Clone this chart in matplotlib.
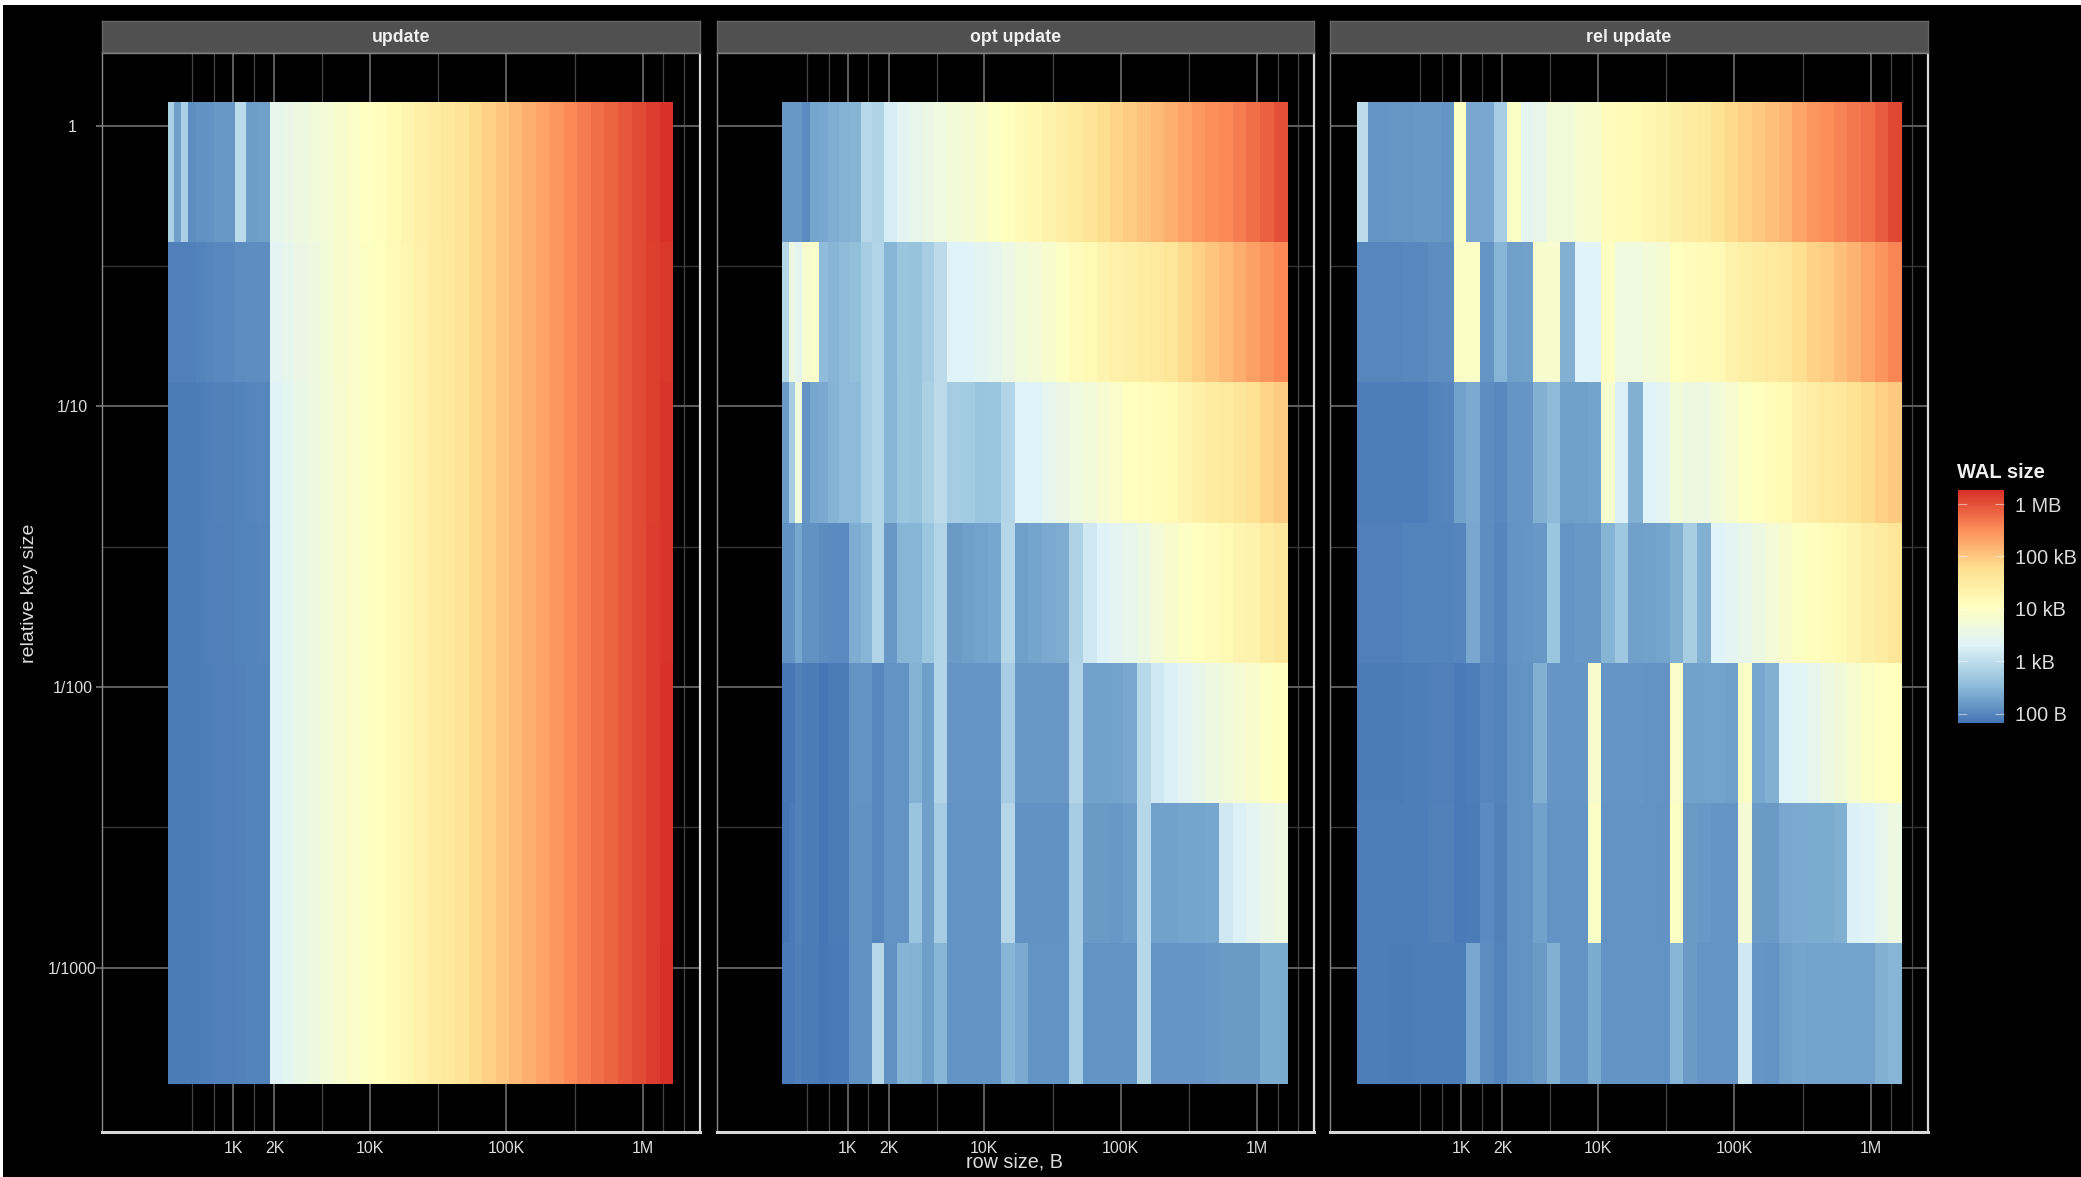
import matplotlib
matplotlib.use('Agg')
import matplotlib.pyplot as plt
from matplotlib.colors import LinearSegmentedColormap, Normalize
from matplotlib.patches import Rectangle
from matplotlib.ticker import NullFormatter
import numpy as np

plt.rcParams['font.family'] = ['Liberation Sans', 'DejaVu Sans']

# data: everything in log10 bytes
panel_names = ['update', 'opt update', 'rel update']

# row size bin edges
row_edges = [2.518, 2.566, 2.613, 2.664, 2.726, 2.790, 2.855, 2.933, 3.009, 3.096, 3.175,
             3.265, 3.363, 3.447, 3.545, 3.632, 3.728, 3.834, 3.930, 4.025, 4.121,
             4.227, 4.323, 4.421, 4.522, 4.620, 4.724, 4.823, 4.924, 5.019, 5.117,
             5.218, 5.317, 5.421, 5.519, 5.620, 5.718, 5.819, 5.918, 6.021, 6.122, 6.221]
row_edges_rel = [2.238, 2.317, 2.407, 2.474, 2.572, 2.662, 2.758, 2.853, 2.949, 3.036, 3.134,
                 3.238, 3.333, 3.434, 3.527, 3.628, 3.726, 3.833, 3.926, 4.024, 4.128,
                 4.223, 4.327, 4.425, 4.526, 4.627, 4.726, 4.827, 4.928, 5.029, 5.130,
                 5.225, 5.326, 5.425, 5.531, 5.627, 5.731, 5.826, 5.927, 6.028, 6.127, 6.228]

# relative key size bin edges
key_edges = [0.086, -0.414, -0.914, -1.414, -1.914, -2.414, -2.914, -3.414]

wal_update = [
    [2.8, 2.25, 2.8, 2.07, 2.1, 2.13, 2.17, 2.18, 2.95, 2.22, 2.25, 3.48, 3.52, 3.6, 3.68, 3.76, 3.85, 3.93, 4.02, 4.07, 4.2, 4.28, 4.4, 4.5, 4.6, 4.7, 4.82, 4.93, 5.03, 5.13, 5.22, 5.33, 5.45, 5.55, 5.65, 5.75, 5.85, 5.95, 6.05, 6.15, 6.24],
    [1.93, 1.93, 1.93, 1.93, 1.97, 2.0, 2.02, 2.02, 2.05, 2.07, 2.08, 3.38, 3.46, 3.56, 3.64, 3.74, 3.84, 3.92, 4.0, 4.06, 4.18, 4.26, 4.38, 4.48, 4.58, 4.7, 4.82, 4.93, 5.03, 5.13, 5.22, 5.33, 5.45, 5.55, 5.65, 5.75, 5.85, 5.95, 6.05, 6.14, 6.21],
    [1.9, 1.9, 1.9, 1.9, 1.92, 1.93, 1.95, 1.95, 1.97, 1.98, 2.0, 3.33, 3.42, 3.54, 3.62, 3.72, 3.82, 3.92, 4.0, 4.06, 4.18, 4.26, 4.38, 4.48, 4.58, 4.7, 4.82, 4.93, 5.03, 5.13, 5.22, 5.33, 5.45, 5.55, 5.65, 5.75, 5.85, 5.95, 6.05, 6.14, 6.22],
    [1.9, 1.9, 1.9, 1.9, 1.92, 1.93, 1.94, 1.95, 1.96, 1.97, 1.98, 3.33, 3.42, 3.54, 3.62, 3.72, 3.82, 3.92, 4.0, 4.06, 4.18, 4.26, 4.38, 4.48, 4.58, 4.7, 4.82, 4.93, 5.03, 5.13, 5.22, 5.33, 5.45, 5.55, 5.65, 5.75, 5.85, 5.95, 6.05, 6.15, 6.23],
    [1.9, 1.9, 1.9, 1.9, 1.91, 1.92, 1.93, 1.94, 1.95, 1.96, 1.97, 3.33, 3.42, 3.54, 3.62, 3.72, 3.82, 3.92, 4.0, 4.06, 4.18, 4.26, 4.38, 4.48, 4.58, 4.7, 4.82, 4.93, 5.03, 5.13, 5.22, 5.33, 5.45, 5.55, 5.65, 5.75, 5.85, 5.95, 6.05, 6.15, 6.24],
    [1.9, 1.9, 1.9, 1.9, 1.91, 1.92, 1.93, 1.94, 1.95, 1.96, 1.97, 3.33, 3.42, 3.54, 3.62, 3.72, 3.82, 3.92, 4.0, 4.06, 4.18, 4.26, 4.38, 4.48, 4.58, 4.7, 4.82, 4.93, 5.03, 5.13, 5.22, 5.33, 5.45, 5.55, 5.65, 5.75, 5.85, 5.95, 6.05, 6.15, 6.25],
    [1.9, 1.9, 1.9, 1.9, 1.91, 1.92, 1.93, 1.94, 1.95, 1.96, 1.97, 3.33, 3.42, 3.54, 3.62, 3.72, 3.82, 3.92, 4.0, 4.06, 4.18, 4.26, 4.38, 4.48, 4.58, 4.7, 4.82, 4.93, 5.03, 5.13, 5.22, 5.33, 5.45, 5.55, 5.65, 5.75, 5.85, 5.95, 6.05, 6.16, 6.26],
]

wal_opt = [
    [2.17, 2.17, 2.17, 2.03, 2.3, 2.32, 2.38, 2.43, 2.45, 2.93, 2.85, 3.22, 3.37, 3.48, 3.57, 3.65, 3.72, 3.78, 3.88, 4.0, 4.05, 4.15, 4.25, 4.35, 4.45, 4.57, 4.68, 4.8, 4.88, 4.97, 5.05, 5.13, 5.22, 5.32, 5.42, 5.5, 5.55, 5.65, 5.75, 5.88, 6.02],
    [2.9, 3.6, 3.4, 3.88, 3.9, 2.55, 2.47, 2.52, 2.57, 2.77, 2.87, 2.48, 2.65, 2.62, 2.77, 2.95, 3.3, 3.3, 3.37, 3.47, 3.58, 3.68, 3.75, 3.85, 3.98, 4.1, 4.2, 4.3, 4.38, 4.42, 4.48, 4.55, 4.65, 4.82, 4.92, 5.02, 5.12, 5.24, 5.36, 5.47, 5.55],
    [2.2, 2.75, 3.65, 2.15, 2.32, 2.35, 2.45, 2.52, 2.53, 2.77, 2.87, 2.48, 2.66, 2.62, 2.8, 2.95, 2.75, 2.73, 2.65, 2.67, 2.87, 3.3, 3.3, 3.45, 3.57, 3.65, 3.7, 3.82, 3.92, 4.03, 4.08, 4.13, 4.2, 4.3, 4.4, 4.48, 4.55, 4.65, 4.75, 4.88, 4.97],
    [2.1, 2.1, 2.32, 2.1, 2.1, 2.05, 2.03, 2.03, 2.38, 2.47, 2.87, 2.17, 2.47, 2.48, 2.67, 2.88, 2.2, 2.25, 2.28, 2.32, 2.9, 2.25, 2.3, 2.35, 2.38, 2.83, 3.15, 3.3, 3.38, 3.48, 3.6, 3.75, 3.88, 3.97, 4.05, 4.1, 4.2, 4.3, 4.35, 4.5, 4.6],
    [1.85, 1.85, 1.95, 1.9, 1.9, 1.83, 1.9, 1.9, 2.12, 2.12, 2.0, 2.12, 2.12, 2.43, 2.25, 2.88, 2.14, 2.14, 2.14, 2.14, 2.77, 2.18, 2.18, 2.18, 2.18, 2.87, 2.27, 2.27, 2.28, 2.33, 2.92, 3.15, 3.28, 3.38, 3.5, 3.6, 3.68, 3.78, 3.88, 3.98, 4.05],
    [1.82, 1.88, 1.95, 1.9, 1.9, 1.83, 1.9, 1.9, 2.11, 2.11, 2.0, 2.13, 2.13, 2.65, 2.25, 2.75, 2.13, 2.13, 2.13, 2.13, 2.9, 2.1, 2.1, 2.1, 2.1, 2.77, 2.2, 2.2, 2.18, 2.22, 2.9, 2.27, 2.27, 2.3, 2.3, 2.32, 3.15, 3.28, 3.4, 3.52, 3.6],
    [1.88, 1.88, 1.93, 1.9, 1.9, 1.85, 1.88, 1.88, 2.1, 2.1, 2.9, 2.1, 2.45, 2.43, 2.25, 2.47, 2.12, 2.12, 2.12, 2.12, 2.47, 2.35, 2.12, 2.12, 2.12, 2.77, 2.13, 2.13, 2.13, 2.13, 2.9, 2.15, 2.15, 2.15, 2.15, 2.17, 2.2, 2.2, 2.2, 2.36, 2.36],
]

wal_rel = [
    [2.95, 2.15, 2.15, 2.16, 2.16, 2.17, 2.17, 2.15, 4.0, 2.34, 2.34, 2.75, 3.95, 3.4, 3.5, 3.7, 3.7, 3.82, 3.85, 4.1, 4.15, 4.2, 4.27, 4.35, 4.42, 4.5, 4.58, 4.72, 4.85, 4.92, 5.0, 5.08, 5.17, 5.3, 5.45, 5.53, 5.6, 5.68, 5.78, 5.92, 6.07],
    [2.0, 2.0, 2.0, 2.0, 2.02, 2.02, 2.05, 2.05, 3.95, 3.95, 2.15, 2.47, 2.25, 2.27, 3.85, 3.85, 2.42, 3.3, 3.3, 4.0, 3.65, 3.65, 3.72, 3.8, 4.05, 4.1, 4.15, 4.2, 4.35, 4.42, 4.5, 4.55, 4.62, 4.78, 4.9, 4.98, 5.08, 5.18, 5.32, 5.47, 5.58],
    [1.92, 1.92, 1.92, 1.92, 1.92, 1.92, 1.96, 1.98, 2.27, 2.35, 2.08, 2.02, 2.15, 2.15, 2.42, 2.52, 2.25, 2.25, 2.28, 3.85, 3.25, 2.42, 3.3, 3.38, 3.72, 3.62, 3.6, 3.72, 3.82, 4.0, 4.05, 4.12, 4.2, 4.38, 4.45, 4.55, 4.62, 4.72, 4.82, 4.92, 5.0],
    [1.93, 1.93, 1.93, 1.93, 1.96, 1.96, 1.96, 1.96, 1.98, 2.33, 2.05, 1.98, 2.12, 2.15, 2.18, 2.67, 2.15, 2.17, 2.17, 2.45, 2.7, 2.25, 2.27, 2.3, 2.42, 2.78, 2.42, 3.3, 3.38, 3.5, 3.62, 3.75, 3.88, 4.0, 4.07, 4.12, 4.2, 4.3, 4.42, 4.5, 4.65],
    [1.9, 1.9, 1.9, 1.9, 1.92, 1.92, 1.94, 1.94, 1.88, 1.92, 2.0, 1.97, 2.1, 2.12, 2.42, 2.14, 2.14, 2.14, 3.85, 2.15, 2.15, 2.15, 2.13, 2.13, 3.92, 2.26, 2.27, 2.28, 2.25, 3.95, 2.32, 2.42, 3.3, 3.35, 3.45, 3.6, 3.7, 3.82, 3.95, 4.02, 4.05],
    [1.92, 1.92, 1.92, 1.92, 1.92, 1.92, 1.95, 1.95, 1.88, 1.9, 2.03, 1.95, 2.1, 2.12, 2.27, 2.13, 2.13, 2.13, 3.95, 2.13, 2.13, 2.13, 2.13, 2.1, 4.0, 2.2, 2.18, 2.15, 2.15, 3.78, 2.2, 2.2, 2.33, 2.35, 2.36, 2.37, 2.42, 3.27, 3.32, 3.47, 3.6],
    [1.92, 1.92, 1.92, 1.9, 1.9, 1.92, 1.92, 1.92, 1.92, 2.33, 2.05, 1.97, 2.1, 2.12, 2.2, 2.42, 2.13, 2.13, 2.37, 2.13, 2.13, 2.13, 2.13, 2.13, 2.47, 2.2, 2.15, 2.15, 2.15, 3.15, 2.15, 2.12, 2.25, 2.3, 2.28, 2.28, 2.28, 2.28, 2.28, 2.42, 2.47],
]

# axis ticks
x_major = [1000, 2000, 10000, 100000, 1000000]
x_labels = ['1K', '2K', '10K', '100K', '1M']
x_minor = [500, 724, 1414, 4472, 31623, 316228, 1414000, 2000000]
y_major = [1, 0.1, 0.01, 0.001]
y_labels = ['1', '1/10', '1/100', '1/1000']
y_minor = [0.316, 0.0316, 0.00316]
legend_ticks = [2, 3, 4, 5, 6]
legend_labels = ['100 B', '1 kB', '10 kB', '100 kB', '1 MB']

W, H = 2081, 1177
txt = '#dcdcdc'

cmap = LinearSegmentedColormap.from_list(
    'wal', ['#4575b4', '#91bfdb', '#e0f3f8', '#ffffbf', '#fee090', '#fc8d59', '#d73027'])
norm = Normalize(1.82, 6.27)


def box(x0, y0, x1, y1):
    # pixel box, from the top left, to figure fractions
    return [x0 / W, 1 - y1 / H, (x1 - x0) / W, (y1 - y0) / H]


fig = plt.figure(figsize=(W / 100, H / 100), dpi=100, facecolor='white')
fig.patches.append(Rectangle((3 / W, 0), 1, 1 - 5 / H, transform=fig.transFigure,
                             facecolor='black', edgecolor='none', zorder=-10))

lefts = [102, 716.5, 1330]
edges = [row_edges, row_edges, row_edges_rel]
values = [wal_update, wal_opt, wal_rel]

for i in range(3):
    x0 = lefts[i]
    ax = fig.add_axes(box(x0, 53, x0 + 597.5, 1132), facecolor='black')
    xe = 10 ** np.array(edges[i])
    ye = 10 ** np.array(key_edges)
    mesh = ax.pcolormesh(xe, ye, np.array(values[i]), cmap=cmap, norm=norm,
                         edgecolor='face', linewidth=0, zorder=2)
    ax.set_xscale('log')
    ax.set_yscale('log')
    ax.set_xlim(109, 2.6e6)
    ax.set_ylim(10 ** -3.586, 10 ** 0.26)

    ax.set_xticks(x_major)
    ax.set_xticklabels(x_labels)
    ax.set_xticks(x_minor, minor=True)
    ax.xaxis.set_minor_formatter(NullFormatter())
    ax.set_yticks(y_major)
    ax.set_yticks(y_minor, minor=True)
    ax.yaxis.set_minor_formatter(NullFormatter())
    if i == 0:
        ax.set_yticklabels(y_labels, ha='center')
    else:
        ax.set_yticklabels([])

    ax.set_axisbelow(True)
    ax.grid(which='major', color='#5e5e5e', linewidth=1.4)
    ax.grid(which='minor', axis='x', color='#444444', linewidth=0.9)
    ax.grid(which='minor', axis='y', color='#363636', linewidth=1.0)
    ax.tick_params(which='minor', length=0)
    ax.tick_params(axis='x', which='major', length=0, pad=6.5, labelsize=11.5, labelcolor=txt)
    # labels are centred on one another, as in the source chart
    ax.tick_params(axis='y', which='major', length=4 if i == 0 else 0, width=1.2,
                   color='#777777', pad=17.4, labelsize=11.5, labelcolor=txt)

    ax.spines['left'].set_color('#8a8a8a')
    ax.spines['left'].set_linewidth(1.0)
    ax.spines['top'].set_color('#8a8a8a')
    ax.spines['top'].set_linewidth(1.0)
    ax.spines['right'].set_color('#d8d8d8')
    ax.spines['right'].set_linewidth(1.6)
    ax.spines['bottom'].set_color('#d8d8d8')
    ax.spines['bottom'].set_linewidth(2.2)

    strip = fig.add_axes(box(x0, 21, x0 + 597.5, 52), facecolor='#505050')
    strip.set_xticks([])
    strip.set_yticks([])
    for s in strip.spines.values():
        s.set_color('#666666')
        s.set_linewidth(1.0)
    strip.text(0.5, 0.47, panel_names[i], transform=strip.transAxes, ha='center', va='center',
               color='#f0f0f0', fontsize=12.8, fontweight='bold')

fig.text(1014 / W, 1 - 1162 / H, 'row size, B', color=txt, fontsize=14.2, ha='center', va='center')
fig.text(29 / W, 1 - 593 / H, 'relative key size', color=txt, fontsize=14, rotation=90,
         ha='center', va='center')

# colour legend
cax = fig.add_axes(box(1958, 490, 2004, 723))
cbar = fig.colorbar(mesh, cax=cax)
cbar.set_ticks(legend_ticks)
cbar.set_ticklabels(legend_labels)
cbar.outline.set_visible(False)
cax.tick_params(axis='y', which='both', direction='in', left=True, right=True, length=6.5,
                width=0.8, color='#ffffff80', pad=8, labelsize=14.3, labelcolor=txt)
fig.text(1957 / W, 1 - 472 / H, 'WAL size', color='#f0f0f0', fontsize=14.5, fontweight='bold',
         ha='left', va='center')

fig.savefig('out.png', dpi=100, facecolor=fig.get_facecolor())
